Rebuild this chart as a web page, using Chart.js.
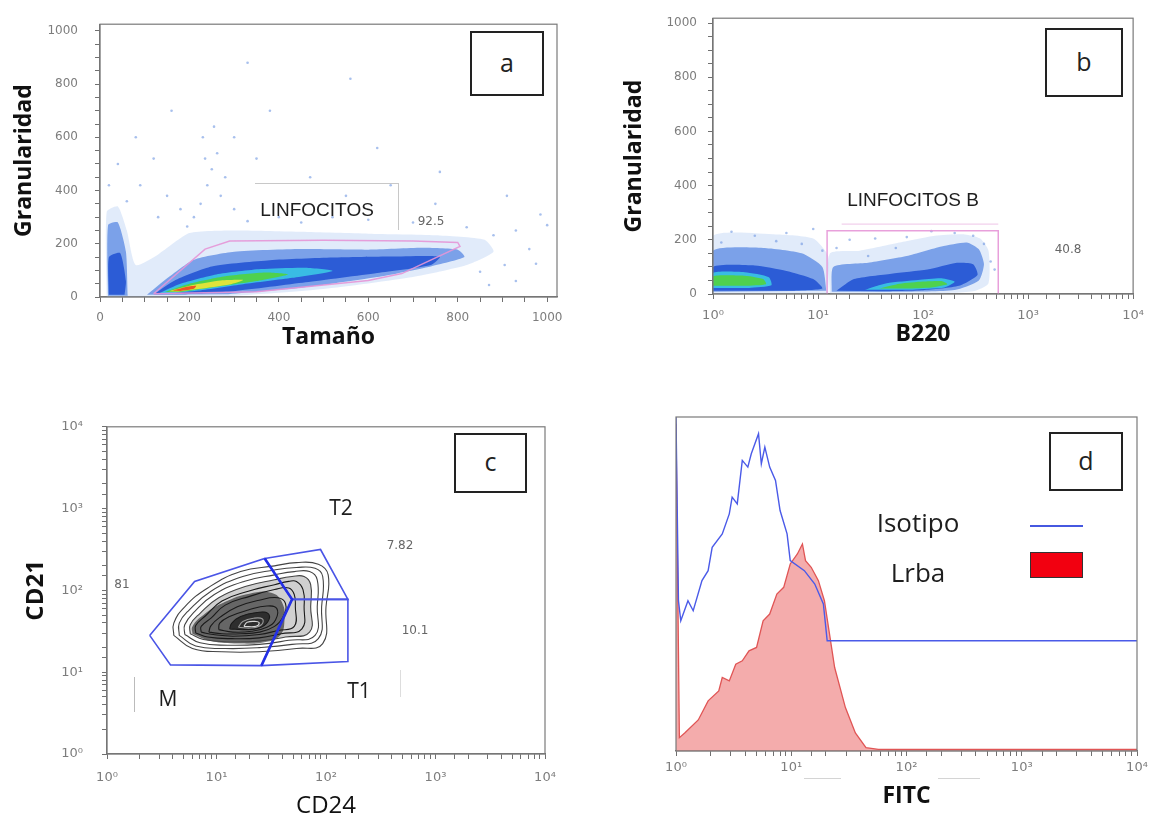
<!DOCTYPE html>
<html>
<head>
<meta charset="utf-8">
<script src="https://cdn.jsdelivr.net/npm/chart.js@4.4.1/dist/chart.umd.min.js"></script>
<style>
  body { margin: 0; background: #fff; width: 1153px; height: 821px; position: relative; overflow: hidden; font-family: "Liberation Sans", Arial, sans-serif; }
  .panel { position: absolute; }
  .tag { position: absolute; box-sizing: border-box; border: 2px solid #222; background: #fff; display: flex; align-items: center; justify-content: center; font-family: "Open Sans", sans-serif; font-size: 25px; color: #222; padding-bottom: 4px; }
  .txt { position: absolute; transform: translate(-50%, -50%); white-space: nowrap; color: #1e1e1e; }
  .big { font-size: 19px; }
  .num { font-family: "DejaVu Sans", sans-serif; font-size: 12px; color: #666; }
  .gate { font-family: "Open Sans", sans-serif; font-size: 21px; }
  .leg { font-family: "Open Sans", sans-serif; font-size: 26px; }
  .rule { position: absolute; background: #c8c8c8; }
</style>
</head>
<body>
<div id="pa" class="panel" style="left:0;top:0;width:576px;height:360px"><canvas id="ca"></canvas></div>
<div id="pb" class="panel" style="left:576px;top:0;width:577px;height:360px"><canvas id="cb"></canvas></div>
<div id="pc" class="panel" style="left:0;top:400px;width:576px;height:421px"><canvas id="cc"></canvas></div>
<div id="pd" class="panel" style="left:576px;top:400px;width:577px;height:421px"><canvas id="cd"></canvas></div>

<!-- panel letters -->
<div class="tag" style="left:470px;top:31px;width:74px;height:65px">a</div>
<div class="tag" style="left:1045px;top:28px;width:78px;height:69px">b</div>
<div class="tag" style="left:454px;top:433px;width:73px;height:60px">c</div>
<div class="tag" style="left:1049px;top:432px;width:74px;height:59px">d</div>

<!-- panel a notes -->
<div class="rule" style="left:255px;top:183px;width:143px;height:1px"></div>
<div class="rule" style="left:398px;top:183px;width:1px;height:47px"></div>
<div class="txt big" style="left:317px;top:210px">LINFOCITOS</div>
<div class="txt num" style="left:431px;top:221px">92.5</div>

<!-- panel b notes -->
<div class="txt big" style="left:913px;top:200px">LINFOCITOS B</div>
<div class="txt num" style="left:1068px;top:249px">40.8</div>

<!-- panel c notes -->
<div class="txt gate" style="left:341px;top:507px">T2</div>
<div class="txt num" style="left:400px;top:545px">7.82</div>
<div class="txt num" style="left:122px;top:584px">81</div>
<div class="txt num" style="left:415px;top:630px">10.1</div>
<div class="txt gate" style="left:359px;top:690px">T1</div>
<div class="txt gate" style="left:168px;top:698px">M</div>
<div class="rule" style="left:134px;top:677px;width:1px;height:35px;background:#bbb"></div>
<div class="rule" style="left:400px;top:670px;width:1px;height:27px;background:#ddd"></div>

<!-- panel d legend -->
<div class="txt leg" style="left:918px;top:522px">Isotipo</div>
<div class="txt leg" style="left:918px;top:572px">Lrba</div>
<div style="position:absolute;left:1030px;top:525px;width:53px;height:2px;background:#4658e0"></div>
<div style="position:absolute;left:1030px;top:552px;width:53px;height:26px;box-sizing:border-box;background:#f20010;border:1.5px solid #333"></div>
<div class="rule" style="left:804px;top:778px;width:37px;height:1px;background:#d4d4d4"></div>
<div class="rule" style="left:938px;top:778px;width:42px;height:1px;background:#d4d4d4"></div>

<script>
// Tick labels
const linTickValues = [0, 200, 400, 600, 800, 1000];
const linTickLabels = ['0', '200', '400', '600', '800', '1000'];
const logTickValues = [1, 10, 100, 1000, 10000];
const logTickLabels = ['10⁰', '10¹', '10²', '10³', '10⁴'];

// Panel a: Tamaño vs Granularidad, density levels (outer to inner)
const aHalo = [[15,0],[15,320],[40,340],[60,250],[80,120],[130,160],[200,240],[300,250],[450,245],[600,238],[750,232],[860,215],[880,170],[820,120],[700,75],[500,30],[300,5],[120,0]];
const aBlueLeft = [[18,5],[18,270],[40,280],[58,170],[62,5]];
const aBlue = [[105,8],[150,70],[210,140],[300,170],[450,180],[600,178],[720,185],[800,178],[815,150],[740,115],[620,75],[450,35],[280,10]];
const aDarkLeft = [[20,8],[20,150],[45,165],[58,60],[55,8]];
const aDark = [[120,10],[170,65],[250,115],[380,138],[520,148],[650,152],[760,152],[740,120],[620,90],[460,55],[300,22],[180,10]];
const aCyan = [[132,14],[180,50],[260,85],[360,105],[460,110],[520,98],[430,72],[320,48],[220,24],[160,13]];
const aGreen = [[145,19],[200,50],[280,78],[370,92],[420,85],[350,60],[250,36],[180,19]];
const aYellow = [[155,22],[205,44],[270,62],[320,64],[290,47],[220,30],[175,21]];
const aRed = [[160,24],[190,37],[215,42],[210,31],[180,23]];
const aSpeckles = [[210,300],[225,350],[240,420],[250,480],[235,520],[262,540],[280,450],[270,380],[300,330],[195,265],[330,285],[180,330],[150,380],[90,420],[60,360],[130,300],[400,300],[450,280],[520,300],[600,290],[700,280],[820,262],[880,232],[930,250],[960,180],[985,310],[905,120],[850,95],[750,350],[650,420],[550,380],[350,520],[300,600],[470,450],[120,520],[40,500],[1000,270],[975,125],[930,60],[870,45],[230,600],[255,640],[160,700],[380,700],[620,560],[760,470],[910,380],[80,600],[20,420],[560,820],[330,880]];
const aGate = [[120,12],[235,180],[290,210],[500,213],[700,210],[800,205],[805,190],[675,88],[600,62],[350,20],[120,12]];

// Panel b: B220 vs Granularidad
const bHaloLeft = [[1,0],[1,215],[4,220],[9,205],[12.5,140],[12.5,0]];
const bHaloRight = [[13,0],[13,150],[25,160],[60,190],[130,215],[250,220],[350,205],[420,160],[420,40],[300,10],[100,0]];
const bBlueLeft = [[1,8],[1,160],[3,170],[7,150],[11,100],[12,12]];
const bBlueRight = [[13.5,8],[14,100],[30,115],[70,140],[150,175],[260,190],[340,165],[380,110],[340,50],[200,15],[60,8]];
const bDarkLeft = [[1,12],[1,100],[2.5,105],[5,85],[9,55],[11,20],[6,12]];
const bDarkRight = [[15,12],[22,55],[50,75],[110,90],[210,115],[300,110],[330,70],[220,30],[100,14],[40,10]];
const bCyanLeft = [[1,22],[1,78],[2,80],[3.4,62],[3.6,32],[2.2,22]];
const bCyanRight = [[28,16],[45,40],[90,52],[150,58],[200,45],[160,24],[80,16]];
const bGreenLeft = [[1,30],[1,66],[1.9,68],[3,55],[3.2,36],[2,30]];
const bGreenRight = [[38,20],[60,38],[100,46],[150,48],[170,36],[120,24],[70,20]];
const bSpeckles = [[1.5,230],[2.5,215],[5,225],[9,240],[15,170],[20,200],[35,205],[70,210],[120,232],[200,225],[300,215],[380,185],[440,120],[30,140],[55,170],[4,195],[7,185],[11,160],[1.2,190],[480,90]];
const bGate = [[12.2,0],[12.2,233],[520,233],[520,0]];
const bLabelLine = [[16.8,258],[520,258]];

// Panel c: CD24 vs CD21 contours, points as [log10 x, log10 y]
const cContours = [
  [[.61,1.45],[.78,1.29],[1.05,1.25],[1.39,1.25],[1.73,1.29],[1.97,1.35],[2.00,1.80],[2.02,2.19],[1.93,2.32],[1.73,2.34],[1.53,2.30],[1.22,2.23],[.92,2.03],[.71,1.80],[.61,1.60],[.61,1.45]],
  [[.66,1.45],[.81,1.32],[1.08,1.29],[1.39,1.30],[1.69,1.34],[1.93,1.41],[1.96,1.80],[1.97,2.17],[1.90,2.27],[1.73,2.28],[1.53,2.25],[1.24,2.17],[.95,1.99],[.75,1.76],[.66,1.60],[.66,1.45]],
  [[.71,1.46],[.85,1.36],[1.10,1.33],[1.39,1.34],[1.66,1.39],[1.90,1.45],[1.92,1.80],[1.92,2.13],[1.85,2.23],[1.71,2.23],[1.53,2.19],[1.25,2.11],[.98,1.95],[.80,1.74],[.71,1.58],[.71,1.46]],
  [[.76,1.47],[.88,1.40],[1.12,1.37],[1.39,1.38],[1.63,1.43],[1.85,1.49],[1.86,1.80],[1.86,2.07],[1.80,2.17],[1.69,2.17],[1.53,2.13],[1.27,2.05],[1.02,1.91],[.85,1.72],[.76,1.58],[.76,1.47]],
  [[.81,1.48],[.92,1.43],[1.14,1.41],[1.39,1.42],[1.59,1.47],[1.78,1.53],[1.80,1.80],[1.79,2.01],[1.73,2.11],[1.66,2.11],[1.53,2.07],[1.29,1.99],[1.05,1.87],[.90,1.69],[.81,1.57],[.81,1.48]],
  [[.86,1.49],[.97,1.46],[1.15,1.44],[1.39,1.46],[1.56,1.51],[1.71,1.56],[1.72,1.80],[1.71,1.95],[1.66,2.03],[1.53,2.01],[1.31,1.93],[1.08,1.82],[.95,1.66],[.86,1.56],[.86,1.49]],
  [[.93,1.49],[1.05,1.47],[1.22,1.47],[1.39,1.49],[1.53,1.56],[1.61,1.68],[1.63,1.84],[1.56,1.91],[1.39,1.88],[1.19,1.80],[1.03,1.67],[.95,1.57],[.93,1.49]],
  [[1.02,1.52],[1.15,1.49],[1.32,1.50],[1.46,1.55],[1.54,1.64],[1.55,1.78],[1.46,1.81],[1.29,1.76],[1.12,1.68],[1.03,1.60],[1.02,1.52]],
  [[1.12,1.53],[1.25,1.52],[1.39,1.54],[1.47,1.62],[1.47,1.72],[1.37,1.73],[1.22,1.68],[1.14,1.60],[1.12,1.53]],
  [[1.20,1.55],[1.32,1.54],[1.41,1.58],[1.42,1.65],[1.34,1.66],[1.24,1.62],[1.20,1.55]],
  [[1.25,1.56],[1.36,1.56],[1.39,1.60],[1.36,1.62],[1.28,1.61],[1.25,1.56]]
];
// dark core of the left lobe, [log10 x, log10 y]
const cCore = [[.78,1.47],[.95,1.38],[1.20,1.35],[1.45,1.37],[1.58,1.45],[1.62,1.62],[1.60,1.85],[1.50,1.97],[1.30,1.96],[1.08,1.86],[.88,1.70],[.78,1.56],[.78,1.47]];
const cGateM = [[0.39,1.45],[0.80,2.11],[1.44,2.39],[1.69,1.89],[1.41,1.08],[0.58,1.09],[0.39,1.45]];
const cGateT2 = [[1.44,2.39],[1.95,2.50],[2.20,1.89],[1.69,1.89]];
const cGateT1 = [[1.69,1.89],[2.20,1.89],[2.20,1.13],[1.41,1.08]];
const cDivider = [[1.44,2.39],[1.69,1.89],[1.41,1.08]];

// Panel d: FITC histograms (counts as % of plot height)
const isotipoX = [1, 1.05, 1.1, 1.27, 1.41, 1.68, 1.9, 2.06, 2.52, 2.9, 3.07, 3.4, 3.76, 4.2, 4.5, 5.2, 5.5, 5.9, 6.5, 7.3, 8.0, 9.2, 9.8, 13, 16, 19, 20.5, 10000];
const isotipoY = [100, 45, 39, 45, 42, 51, 54, 61, 65, 71, 76, 74, 87, 85, 89, 95, 86, 91, 85, 81, 72, 65, 57, 54, 50, 44, 33, 33];
const lrbaX = [1, 1.07, 1.19, 1.56, 1.9, 2.35, 2.52, 2.9, 3.3, 3.76, 4.3, 5.0, 5.7, 6.5, 7.5, 8.6, 9.8, 11.3, 12.5, 13.3, 14.9, 17.2, 19.4, 23.8, 29.5, 36, 44.5, 57, 200, 10000];
const lrbaY = [98, 4, 5.4, 9.3, 15, 18, 22, 21, 26, 27, 30, 31, 39, 41, 47, 49, 56, 59, 62, 57, 55, 51, 45, 25, 13, 5.4, 1, 0.5, 0.5, 0.5];

// Shared styling
const tickFont = { family: 'DejaVu Sans', size: 12 };
const logFont = { family: 'DejaVu Sans', size: 13 };
const titleFont = { family: 'Open Sans', size: 23, weight: 'bold' };
const axisColor = '#707070';

const framePlugin = {
    id: 'frame',
    afterDatasetsDraw(chart) {
        const { ctx, chartArea: a } = chart;
        ctx.save();
        ctx.strokeStyle = '#7a7a7a';
        ctx.lineWidth = 1.2;
        ctx.strokeRect(a.left, a.top, a.right - a.left, a.bottom - a.top);
        ctx.restore();
    }
};

function pickLabel(values, labels, v) {
    for (let i = 0; i < values.length; i++) {
        if (Math.abs(v - values[i]) <= values[i] * 1e-6 + 1e-9) return labels[i];
    }
    return '';
}

function axis(o) {
    const s = {
        type: o.type,
        min: o.min,
        max: o.max,
        display: o.display !== false,
        grid: { drawOnChartArea: false, drawTicks: true, tickLength: 5, color: axisColor, lineWidth: 1 },
        border: { display: true, color: axisColor, width: 1.2 },
        ticks: {
            autoSkip: false,
            maxRotation: 0,
            includeBounds: false,
            padding: o.pad,
            color: '#7d7d7d',
            font: o.type === 'logarithmic' ? logFont : tickFont,
            callback: v => o.type === 'logarithmic'
                ? pickLabel(logTickValues, logTickLabels, v)
                : pickLabel(linTickValues, linTickLabels, v)
        },
        afterFit: o.fit
    };
    if (o.step) s.ticks.stepSize = o.step;
    if (o.title) {
        s.title = { display: true, text: o.title, color: '#111', font: o.titleFont || titleFont, padding: o.titlePad };
    }
    return s;
}

const pts = arr => arr.map(([x, y]) => ({ x, y }));
const logPts = arr => arr.map(([lx, ly]) => ({ x: Math.pow(10, lx), y: Math.pow(10, ly) }));
const zip = (xs, ys) => xs.map((x, i) => ({ x, y: ys[i] }));

function area(data, color, order, tension) {
    return { data, backgroundColor: color, borderColor: 'transparent', borderWidth: 0, fill: 'shape', pointRadius: 0, tension: tension === undefined ? 0.2 : tension, order };
}
function outline(data, color, width, order, tension) {
    return { data, borderColor: color, borderWidth: width, fill: false, pointRadius: 0, tension: tension || 0, order };
}
function dots(data, color, order, r) {
    return { data, showLine: false, pointRadius: r || 1.3, pointBorderWidth: 0, pointBackgroundColor: color, order };
}

const halo = 'rgba(180,205,242,0.4)';
const blue = 'rgba(80,130,225,0.7)';
const dark = 'rgba(30,80,210,0.85)';
const cyan = 'rgba(60,200,230,0.9)';
const green = 'rgba(80,210,70,0.95)';
const yellow = '#dfe33a';
const red = '#ee5522';
const pink = 'rgba(230,150,215,0.9)';
const speck = 'rgba(110,150,225,0.6)';

function makeChart(id, datasets, scales, padding) {
    return new Chart(document.getElementById(id), {
        type: 'line',
        data: { datasets },
        options: {
            responsive: true,
            maintainAspectRatio: false,
            animation: false,
            events: [],
            layout: { padding },
            plugins: { legend: { display: false }, tooltip: { enabled: false } },
            scales
        },
        plugins: [framePlugin]
    });
}

// Panel a
makeChart('ca', [
    outline(pts(aGate), pink, 1.5, 0),
    area(pts(aRed), red, 1),
    area(pts(aYellow), yellow, 2),
    area(pts(aGreen), green, 3),
    area(pts(aCyan), cyan, 4),
    area(pts(aDark), dark, 5),
    area(pts(aDarkLeft), dark, 5),
    area(pts(aBlue), blue, 6),
    area(pts(aBlueLeft), blue, 6),
    dots(pts(aSpeckles), speck, 7),
    area(pts(aHalo), halo, 8)
], {
    x: axis({ type: 'linear', min: 0, max: 1022, step: 50, pad: 9, title: 'Tamaño', titlePad: { top: 0, bottom: 9 }, fit: s => { s.height = 63; } }),
    y: axis({ type: 'linear', min: 0, max: 1025, step: 50, pad: 17, title: 'Granularidad', titlePad: { top: 11, bottom: 0 }, fit: s => { s.width = 100; } })
}, { left: 0, top: 16, right: 19, bottom: 0 });

// Panel b
makeChart('cb', [
    outline(pts(bGate), pink, 1.5, 0),
    outline(pts(bLabelLine), 'rgba(230,170,220,0.7)', 1, 0),
    area(pts(bGreenLeft), green, 3),
    area(pts(bGreenRight), green, 3),
    area(pts(bCyanLeft), cyan, 4),
    area(pts(bCyanRight), cyan, 4),
    area(pts(bDarkLeft), dark, 5),
    area(pts(bDarkRight), dark, 5),
    area(pts(bBlueLeft), blue, 6),
    area(pts(bBlueRight), blue, 6),
    dots(pts(bSpeckles), speck, 7),
    area(pts(bHaloLeft), halo, 8),
    area(pts(bHaloRight), halo, 8)
], {
    x: axis({ type: 'logarithmic', min: 1, max: 10000, pad: 9, title: 'B220', titlePad: { top: 0, bottom: 12 }, fit: s => { s.height = 66; } }),
    y: axis({ type: 'linear', min: 0, max: 1018, step: 50, pad: 11, title: 'Granularidad', titlePad: { top: 45, bottom: 0 }, fit: s => { s.width = 137; } })
}, { left: 0, top: 10, right: 16, bottom: 0 });

// Panel c
const contourSets = cContours.map((c, i) => outline(logPts(c), i < 4 ? '#444' : '#1a1a1a', 1.1, 10 + i, 0.45));
contourSets[10].borderColor = '#d8d8d8';
contourSets[9].borderColor = '#9a9a9a';
makeChart('cc', [
    outline(logPts(cDivider), '#2430e6', 2.6, 0),
    outline(logPts(cGateM), '#4a55e6', 1.6, 1),
    outline(logPts(cGateT2), '#4a55e6', 1.6, 1),
    outline(logPts(cGateT1), '#4a55e6', 1.6, 1),
    ...contourSets,
    area(logPts(cContours[8]), 'rgba(10,10,10,0.6)', 29, 0.45),
    area(logPts(cCore), 'rgba(15,15,15,0.55)', 30, 0.45),
    area(logPts(cContours[3]), 'rgba(40,40,40,0.22)', 31, 0.45)
], {
    x: axis({ type: 'logarithmic', min: 1, max: 10000, pad: 11, title: 'CD24', titleFont: { family: 'Open Sans', size: 24, weight: 'normal' }, titlePad: { top: 0, bottom: 0 }, fit: s => { s.height = 67; } }),
    y: axis({ type: 'logarithmic', min: 1, max: 10000, pad: 19, title: 'CD21', titleFont: { family: 'Open Sans', size: 24, weight: 'bold' }, titlePad: { top: 22, bottom: 0 }, fit: s => { s.width = 107; } })
}, { left: 0, top: 13, right: 31, bottom: 0 });

// Panel d
makeChart('cd', [
    outline(zip(isotipoX, isotipoY), '#4a5ae8', 1.4, 0),
    { data: zip(lrbaX, lrbaY), borderColor: '#e05555', borderWidth: 1.3, backgroundColor: 'rgba(240,140,140,0.72)', fill: 'origin', pointRadius: 0, tension: 0, order: 1 }
], {
    x: axis({ type: 'logarithmic', min: 1, max: 10000, pad: 4, title: 'FITC', titlePad: { top: 0, bottom: 11 }, fit: s => { s.height = 70; } }),
    y: axis({ type: 'linear', min: 0, max: 100, display: false })
}, { left: 100, top: 17, right: 16, bottom: 0 });
</script>
</body>
</html>
